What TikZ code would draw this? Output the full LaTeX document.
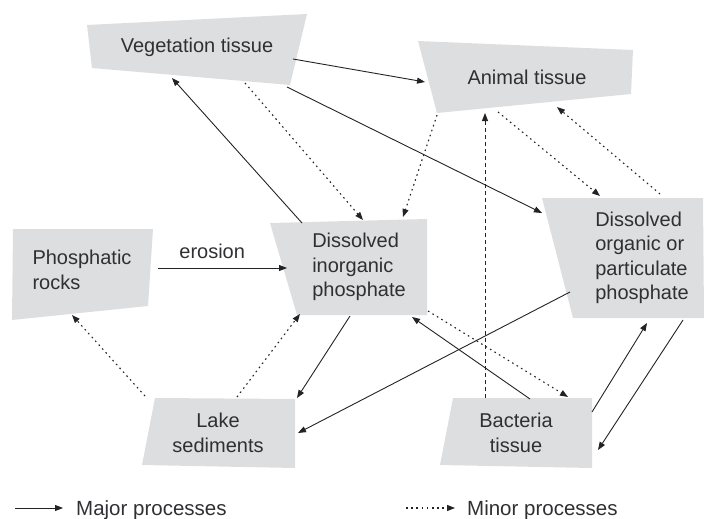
\documentclass[tikz,border=0pt]{standalone}
\usepackage{fontspec}
\setmainfont{Liberation Sans}
\usetikzlibrary{arrows.meta}
\definecolor{boxgray}{RGB}{221,222,224}
\definecolor{txt}{RGB}{48,48,52}
\definecolor{ln}{RGB}{35,35,38}
\begin{document}
\begin{tikzpicture}[x=1pt,y=-1pt,
  box/.style={fill=boxgray,draw=none},
  lbl/.style={text=txt,font=\fontsize{20}{24.5}\selectfont,inner sep=0pt},
  leg/.style={text=txt,font=\fontsize{20.5}{24}\selectfont,inner sep=0pt,anchor=base west},
  major/.style={draw=ln,line width=0.9pt,-{Triangle[length=8pt,width=6pt]}},
  minor/.style={draw=ln,line width=1.1pt,dash pattern=on 1.6pt off 3.6pt,-{Triangle[length=8pt,width=6pt]}},
  minordash/.style={draw=ln,line width=0.9pt,dash pattern=on 4pt off 3pt,-{Triangle[length=8pt,width=6pt]}},
]
\useasboundingbox (0,0) rectangle (704,519);

% boxes
\fill[box] (87,25) -- (307,14) -- (290,85) -- (92,68) -- cycle;      % vegetation
\fill[box] (418,41) -- (633,50) -- (631,94) -- (437,113) -- cycle;   % animal
\fill[box] (13,229) -- (153,229) -- (148,306) -- (12,320) -- cycle;  % phosphatic rocks
\fill[box] (270,223) -- (427,219) -- (427,315) -- (297,315) -- cycle;% inorganic
\fill[box] (542,198) -- (703,198) -- (704,318) -- (573,318) -- cycle;% organic
\fill[box] (155,398) -- (295,399) -- (295,468) -- (142,465) -- cycle;% lake
\fill[box] (453,398) -- (592,398) -- (592,468) -- (440,465) -- cycle;% bacteria

% labels
\node[lbl] (veg) at (197,47) {Vegetation tissue};
\node[lbl] (ani) at (527,77) {Animal tissue};
\node[lbl,align=left] (rock) at (82,270) {Phosphatic\\rocks};
\node[lbl,align=left] (inorg) at (359,267) {Dissolved\\inorganic\\phosphate};
\node[lbl,align=left] (org) at (642,258) {Dissolved\\organic or\\particulate\\phosphate};
\node[lbl,align=center] (lake) at (218,433) {Lake\\sediments};
\node[lbl,align=center] (bact) at (516,433) {Bacteria\\tissue};

% connector end points
\coordinate (vegA) at (293,59);   \coordinate (aniV) at (425,82);
\coordinate (vegO) at (287,87);   \coordinate (orgV) at (542,213);
\coordinate (inoV) at (302,223);  \coordinate (vegI) at (172,78);
\coordinate (rocI) at (158,268);  \coordinate (inoR) at (287,268);
\coordinate (inoL) at (350,316);  \coordinate (lakI) at (297,398);
\coordinate (orgL) at (570,292);  \coordinate (lakO) at (298,433);
\coordinate (bacI) at (530,399);  \coordinate (inoB) at (412,317);
\coordinate (bacO) at (592,412);  \coordinate (orgB) at (647,323);
\coordinate (orgB2) at (683,320); \coordinate (bacO2) at (598,450);
\coordinate (vegI2) at (245,83);  \coordinate (inoV2) at (363,220);
\coordinate (aniI) at (437,115);  \coordinate (inoA) at (403,217);
\coordinate (bacA) at (485,398);  \coordinate (aniB) at (485,113);
\coordinate (aniO) at (498,112);  \coordinate (orgA) at (600,196);
\coordinate (orgA2) at (660,194); \coordinate (aniO2) at (557,107);
\coordinate (lakR) at (145,396);  \coordinate (rocL) at (72,315);
\coordinate (lakI2) at (237,397); \coordinate (inoL2) at (300,314);
\coordinate (inoB2) at (428,311); \coordinate (bacI2) at (568,397);

% major processes
\draw[major] (vegA) -- (aniV);
\draw[major] (vegO) -- (orgV);
\draw[major] (inoV) -- (vegI);
\draw[major] (rocI) -- node[lbl,above=9pt,pos=0.42] (eros) {erosion} (inoR);
\draw[major] (inoL) -- (lakI);
\draw[major] (orgL) -- (lakO);
\draw[major] (bacI) -- (inoB);
\draw[major] (bacO) -- (orgB);
\draw[major] (orgB2) -- (bacO2);

% minor processes
\draw[minor] (vegI2) -- (inoV2);
\draw[minor] (aniI) -- (inoA);
\draw[minordash] (bacA) -- (aniB);
\draw[minor] (aniO) -- (orgA);
\draw[minor] (orgA2) -- (aniO2);
\draw[minor] (lakR) -- (rocL);
\draw[minor] (lakI2) -- (inoL2);
\draw[minor] (inoB2) -- (bacI2);

% legend
\coordinate (lg1a) at (15,508); \coordinate (lg1b) at (63,508);
\coordinate (lg2a) at (406,508); \coordinate (lg2b) at (455,508);
\draw[major] (lg1a) -- (lg1b);
\node[leg] (legmaj) at (76,515) {Major processes};
\draw[minor] (lg2a) -- (lg2b);
\node[leg] (legmin) at (467,515) {Minor processes};
\end{tikzpicture}
\end{document}
